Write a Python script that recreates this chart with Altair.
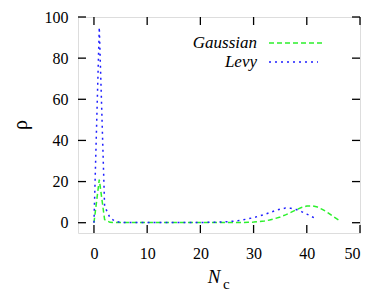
import altair as alt
import pandas as pd

levy_x = list(range(0, 43))
levy_y = [0, 95, 8, 2.5, 0.6, 0.2, 0.1, 0.1, 0.1, 0.1, 0.1, 0.1, 0.1, 0.1, 0.1, 0.1, 0.1, 0.1, 0.1, 0.1, 0.1,
          0.15, 0.2, 0.25, 0.35, 0.5, 0.7, 1.0, 1.4, 1.9, 2.5, 3.2, 4.0, 4.9, 5.8, 6.6, 7.1, 7.0, 6.4, 5.4, 4.2, 2.9, 1.6]
gauss_x = list(range(0, 47))
gauss_y = [0, 21, 1.5, 0.2, 0.05, 0.05, 0.05, 0.05, 0.05, 0.05, 0.05, 0.05, 0.05, 0.05, 0.05, 0.05, 0.05, 0.05, 0.05,
           0.05, 0.05, 0.05, 0.05, 0.05, 0.05, 0.05, 0.05, 0.05, 0.1, 0.2, 0.3, 0.5, 0.8, 1.3, 2.0, 2.8, 3.8, 5.0, 6.3,
           7.4, 8.1, 8.2, 7.6, 6.4, 4.8, 3.0, 1.3]
x_ticks = [0, 10, 20, 30, 40, 50]
y_ticks = [0, 20, 40, 60, 80, 100]

W, H = 282, 216
FONT = "'Liberation Serif', 'Times New Roman', serif"
GREEN = "#2cf02c"
BLUE = "#1e1eff"

levy = pd.DataFrame({"N": levy_x, "rho": levy_y})
gauss = pd.DataFrame({"N": gauss_x, "rho": gauss_y})
xt = pd.DataFrame({"v": x_ticks})
yt = pd.DataFrame({"v": y_ticks})

xs = alt.Scale(domain=[-3, 50], nice=False, zero=False)
ys = alt.Scale(domain=[-5, 100], nice=False, zero=False)

xaxis = alt.Axis(values=x_ticks, ticks=False, domain=False, grid=False, labelFont=FONT,
                 labelFontSize=16, labelColor="black", labelPadding=12, title=None)
yaxis = alt.Axis(values=y_ticks, ticks=False, domain=False, grid=False, labelFont=FONT,
                 labelFontSize=16, labelColor="black", labelPadding=10, title=None)

g_line = alt.Chart(gauss).mark_line(color=GREEN, strokeWidth=1.5, strokeDash=[5, 3]).encode(
    x=alt.X("N:Q", scale=xs, axis=xaxis), y=alt.Y("rho:Q", scale=ys, axis=yaxis))
l_line = alt.Chart(levy).mark_line(color=BLUE, strokeWidth=1.5, strokeDash=[2, 4]).encode(
    x=alt.X("N:Q", scale=xs), y=alt.Y("rho:Q", scale=ys))

tk = 8
xb = alt.Chart(xt).mark_rule(color="black", strokeWidth=1.3).encode(
    x=alt.X("v:Q", scale=xs), y=alt.value(H), y2=alt.value(H - tk))
xtop = alt.Chart(xt).mark_rule(color="black", strokeWidth=1.3).encode(
    x=alt.X("v:Q", scale=xs), y=alt.value(0), y2=alt.value(tk))
yl = alt.Chart(yt).mark_rule(color="black", strokeWidth=1.3).encode(
    y=alt.Y("v:Q", scale=ys), x=alt.value(0), x2=alt.value(tk))
yr = alt.Chart(yt).mark_rule(color="black", strokeWidth=1.3).encode(
    y=alt.Y("v:Q", scale=ys), x=alt.value(W), x2=alt.value(W - tk))

leg_g_txt = alt.Chart(pd.DataFrame({"t": ["Gaussian"]})).mark_text(
    font=FONT, fontStyle="italic", fontSize=17, align="right", baseline="middle", color="black").encode(
    text="t:N", x=alt.value(179), y=alt.value(26))
leg_l_txt = alt.Chart(pd.DataFrame({"t": ["Levy"]})).mark_text(
    font=FONT, fontStyle="italic", fontSize=17, align="right", baseline="middle", color="black").encode(
    text="t:N", x=alt.value(179), y=alt.value(45))
leg_g_line = alt.Chart(pd.DataFrame({"a": [0]})).mark_rule(color=GREEN, strokeWidth=1.5, strokeDash=[5, 3]).encode(
    x=alt.value(191), x2=alt.value(244), y=alt.value(26))
leg_l_line = alt.Chart(pd.DataFrame({"a": [0]})).mark_rule(color=BLUE, strokeWidth=1.5, strokeDash=[2, 4]).encode(
    x=alt.value(191), x2=alt.value(240), y=alt.value(45))

rho_t = alt.Chart(pd.DataFrame({"t": ["ρ"]})).mark_text(
    font=FONT, fontSize=20, angle=270, align="center", baseline="middle", color="black").encode(
    text="t:N", x=alt.value(-57), y=alt.value(108))
n_t = alt.Chart(pd.DataFrame({"t": ["N"]})).mark_text(
    font=FONT, fontStyle="italic", fontSize=19, align="center", baseline="alphabetic", color="black").encode(
    text="t:N", x=alt.value(136), y=alt.value(266))
c_t = alt.Chart(pd.DataFrame({"t": ["c"]})).mark_text(
    font=FONT, fontSize=15, align="left", baseline="alphabetic", color="black").encode(
    text="t:N", x=alt.value(145), y=alt.value(272))

chart = alt.layer(g_line, l_line, xb, xtop, yl, yr, leg_g_txt, leg_l_txt, leg_g_line, leg_l_line,
                  rho_t, n_t, c_t).properties(
    width=W, height=H, autosize="none",
    padding={"left": 70, "top": 9, "right": 14, "bottom": 58},
).configure_view(stroke="black", strokeWidth=1.5).configure(background="white", font=FONT)

chart.save("out.html", embed_options={"renderer": "svg", "actions": False})
